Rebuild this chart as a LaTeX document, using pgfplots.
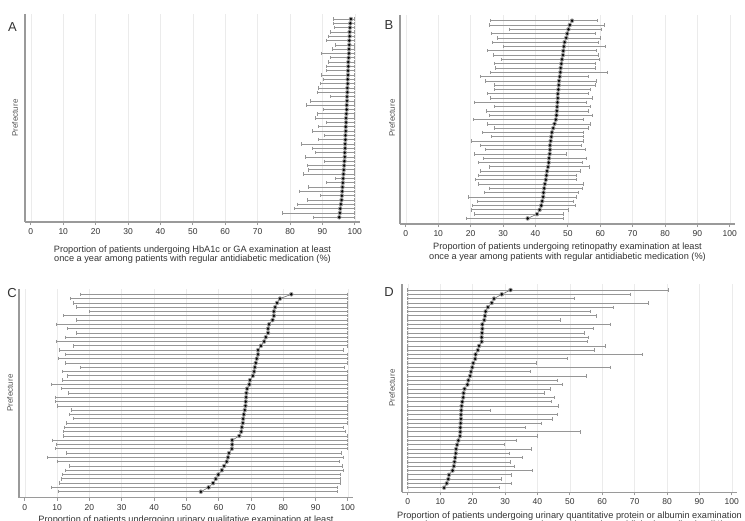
\documentclass[border=0pt]{standalone}
\usepackage{pgfplots}
\pgfplotsset{compat=1.18}
\usepackage{pgfplotstable}
\usepackage{fontspec}
\setmainfont{Liberation Sans}
\definecolor{bar}{HTML}{969696}
\definecolor{axl}{HTML}{9A9A9A}
\definecolor{grd}{HTML}{EBEBEB}
\definecolor{txt}{HTML}{333333}

\pgfplotstableread{
r lo pt hi
1 93.5 98.8 100
2 93.5 98.6 100
3 93.8 98.5 100
4 92.4 98.4 100
5 91.9 98.4 100
6 91.1 98.3 100
7 94.0 98.3 100
8 93.2 98.2 100
9 89.8 98.2 100
10 92.4 98.1 100
11 91.9 98.0 100
12 91.1 98.0 100
13 91.1 97.9 100
14 89.8 97.9 100
15 90.2 97.8 100
16 89.3 97.8 100
17 88.7 97.7 100
18 88.5 97.7 100
19 92.6 97.6 100
20 86.4 97.6 100
21 85.1 97.5 100
22 90.2 97.5 100
23 88.5 97.4 100
24 87.9 97.3 100
25 91.1 97.3 100
26 88.8 97.2 100
27 86.9 97.2 100
28 90.5 97.1 100
29 88.6 97.1 100
30 83.5 97.0 100
31 86.9 97.0 100
32 87.7 96.9 100
33 84.6 96.9 100
34 90.5 96.8 100
35 85.2 96.7 100
36 85.7 96.6 100
37 84.0 96.5 100
38 93.9 96.4 100
39 91.1 96.3 100
40 85.6 96.2 100
41 82.9 96.1 100
42 89.5 96.0 100
43 85.4 95.9 100
44 82.4 95.7 100
45 81.3 95.5 100
46 77.6 95.4 100
47 87.1 95.2 100
}\dataA

\pgfplotstableread{
r lo pt hi
1 26.0 51.3 59.2
2 25.8 50.6 61.2
3 32.1 50.2 60.5
4 26.4 49.8 58.4
5 28.3 49.5 59.9
6 26.7 49.0 59.5
7 30.0 48.8 61.5
8 25.1 48.6 58.9
9 27.0 48.5 59.4
10 29.5 48.2 59.6
11 27.3 48.0 58.6
12 27.6 47.8 58.5
13 26.2 47.7 62.1
14 23.1 47.5 56.3
15 24.5 47.3 58.7
16 27.3 47.2 58.5
17 27.3 47.1 57.1
18 25.1 46.9 56.4
19 26.2 46.9 57.6
20 21.3 46.8 55.7
21 27.3 46.7 56.8
22 25.0 46.6 56.4
23 25.8 46.5 57.5
24 20.8 46.3 54.7
25 25.1 45.9 56.9
26 27.3 45.5 56.4
27 23.5 45.1 54.8
28 26.4 44.9 54.8
29 20.2 44.7 54.8
30 22.9 44.5 54.3
31 24.4 44.5 55.4
32 21.3 44.4 49.5
33 23.8 44.2 55.7
34 22.3 44.1 54.6
35 25.9 43.9 56.5
36 23.0 43.6 54.0
37 22.5 43.4 52.6
38 21.5 43.2 52.6
39 22.3 42.9 54.7
40 25.8 42.7 54.5
41 24.2 42.5 53.3
42 19.4 42.4 52.7
43 22.1 42.1 51.7
44 20.5 41.8 52.3
45 20.3 41.3 50.2
46 21.1 40.5 48.6
47 18.7 37.6 48.6
}\dataB

\pgfplotstableread{
r lo pt hi
1 17.3 82.5 100
2 14.1 79.0 100
3 15.0 78.1 100
4 15.9 77.5 100
5 20.1 77.1 100
6 12.0 77.1 100
7 16.0 76.7 100
8 9.8 75.6 100
9 13.1 75.3 100
10 16.0 75.3 100
11 12.7 74.6 100
12 9.8 74.1 100
13 14.9 73.1 99.7
14 10.7 72.2 98.5
15 12.4 72.2 100
16 10.5 71.8 100
17 12.4 71.5 100
18 17.3 71.2 99.0
19 11.6 71.0 100
20 13.1 70.6 100
21 11.5 69.7 100
22 8.3 69.5 100
23 11.2 68.8 100
24 13.5 68.6 100
25 9.4 68.5 100
26 9.4 68.4 100
27 10.1 68.3 100
28 14.3 68.1 100
29 13.7 67.8 100
30 14.9 67.6 100
31 13.0 67.5 100
32 12.1 67.2 98.7
33 11.9 67.0 99.3
34 12.0 66.4 100
35 8.4 64.2 100
36 9.9 64.2 100
37 9.4 64.1 100
38 13.0 63.2 98.1
39 7.1 62.9 98.7
40 10.1 62.5 97.4
41 13.8 61.7 98.4
42 12.7 61.0 98.7
43 11.7 59.9 97.6
44 11.2 59.1 97.8
45 10.7 58.3 97.8
46 8.1 56.9 96.7
47 10.3 54.5 96.9
}\dataC

\pgfplotstableread{
r lo pt hi
1 0 31.7 80.5
2 0 29.0 68.7
3 0 26.6 51.4
4 0 25.9 74.2
5 0 24.7 63.4
6 0 24.0 56.4
7 0 23.8 58.2
8 0 23.6 47.2
9 0 23.0 62.5
10 0 23.0 57.4
11 0 22.9 54.6
12 0 22.8 55.6
13 0 22.8 55.3
14 0 22.0 61.1
15 0 21.6 57.5
16 0 20.9 72.4
17 0 20.8 49.2
18 0 20.2 39.7
19 0 19.9 62.4
20 0 19.5 37.7
21 0 19.2 55.0
22 0 18.7 46.1
23 0 18.4 47.7
24 0 17.5 44.0
25 0 17.2 42.0
26 0 17.1 45.2
27 0 16.8 44.3
28 0 16.6 46.4
29 0 16.5 25.6
30 0 16.4 46.0
31 0 16.4 44.7
32 0 16.3 41.3
33 0 16.2 36.2
34 0 16.2 53.2
35 0 16.1 40.0
36 0 15.6 33.4
37 0 15.2 29.8
38 0 14.9 38.0
39 0 14.8 31.2
40 0 14.6 35.4
41 0 14.4 31.5
42 0 14.2 32.8
43 0 13.8 38.4
44 0 12.7 32.1
45 0 12.5 29.0
46 0 12.0 31.9
47 0 11.2 28.3
}\dataD

\pgfplotsset{
  panel/.style={
    scale only axis, width=335pt,
    xmin=-1.8, xmax=101.6,
    y dir=reverse,
    axis lines*=left,
    axis line style={axl, line width=1.1pt},
    xtick={0,10,...,100}, ytick=\empty,
    xmajorgrids, grid style={grd, line width=0.5pt},
    tick align=outside, major tick length=3pt,
    tick style={axl, line width=0.7pt},
    xticklabel style={font=\fontsize{8.5}{9}\selectfont, text=txt},
    /pgf/number format/assume math mode=true,
    clip=false,
  },
}
\newcommand{\panelplots}[1]{%
  \addplot[only marks, mark=none, bar, forget plot,
    error bars/.cd, x dir=both, x explicit, error mark=none,
    error bar style={draw=bar, line width=0.7pt}]
    table[x=pt, y=r, x error plus expr={\thisrow{hi}-\thisrow{pt}}, x error minus expr={\thisrow{pt}-\thisrow{lo}}] {#1};
  \addplot[only marks, mark=|, mark size=1.7pt, mark options={draw=bar, line width=0.7pt}] table[x=lo, y=r] {#1};
  \addplot[only marks, mark=|, mark size=1.7pt, mark options={draw=bar, line width=0.7pt}] table[x=hi, y=r] {#1};
  \addplot[black!65, line width=0.5pt, mark=none] table[x=pt, y=r] {#1};
  \addplot[only marks, mark=*, mark size=1.0pt, black] table[x=pt, y=r] {#1};
}

\begin{document}
\begin{tikzpicture}
\useasboundingbox (0pt,0pt) rectangle (745pt,520pt);

\begin{axis}[panel, at={(25pt,298pt)}, anchor=south west, height=208pt, ymin=-0.16, ymax=48.1]
\panelplots{\dataA}
\end{axis}

\begin{axis}[panel, at={(400pt,296pt)}, anchor=south west, height=209pt, ymin=-0.33, ymax=48.3]
\panelplots{\dataB}
\end{axis}

\begin{axis}[panel, at={(19pt,22.3pt)}, anchor=south west, width=334pt, height=208.7pt, ymin=-0.24, ymax=48.4]
\panelplots{\dataC}
\end{axis}

\begin{axis}[panel, at={(402pt,27.7pt)}, anchor=south west, height=208.3pt, ymin=-0.4, ymax=48.07]
\panelplots{\dataD}
\end{axis}

\begin{scope}[every node/.style={text=txt}]
\node[font=\fontsize{13}{13}\selectfont] at (12.5pt,493pt) {A};
\node[font=\fontsize{13}{13}\selectfont] at (389pt,495pt) {B};
\node[font=\fontsize{13}{13}\selectfont] at (12pt,227pt) {C};
\node[font=\fontsize{13}{13}\selectfont] at (389pt,228pt) {D};

\node[font=\fontsize{8}{9}\selectfont, rotate=90, text=txt!85] at (15pt,402pt) {Prefecture};
\node[font=\fontsize{8}{9}\selectfont, rotate=90, text=txt!85] at (392pt,402pt) {Prefecture};
\node[font=\fontsize{8}{9}\selectfont, rotate=90, text=txt!85] at (10pt,127pt) {Prefecture};
\node[font=\fontsize{8}{9}\selectfont, rotate=90, text=txt!85] at (392pt,132pt) {Prefecture};

\node[font=\fontsize{9.2}{9.6}\selectfont, align=center] at (192.5pt,265.5pt) {Proportion of patients undergoing HbA1c or GA examination at least\\once a year among patients with regular antidiabetic medication (\%)};
\node[font=\fontsize{9.2}{9.6}\selectfont, align=center] at (567.5pt,267.7pt) {Proportion of patients undergoing retinopathy examination at least\\once a year among patients with regular antidiabetic medication (\%)};
\node[font=\fontsize{9.2}{9.6}\selectfont, align=center] at (186pt,-4.7pt) {Proportion of patients undergoing urinary qualitative examination at least\\once a year among patients with regular antidiabetic medication (\%)};
\node[font=\fontsize{9.2}{9.6}\selectfont, align=center] at (569.5pt,-0.7pt) {Proportion of patients undergoing urinary quantitative protein or albumin examination\\at least once a year among patients with regular antidiabetic medication (\%)};
\end{scope}
\end{tikzpicture}
\end{document}
